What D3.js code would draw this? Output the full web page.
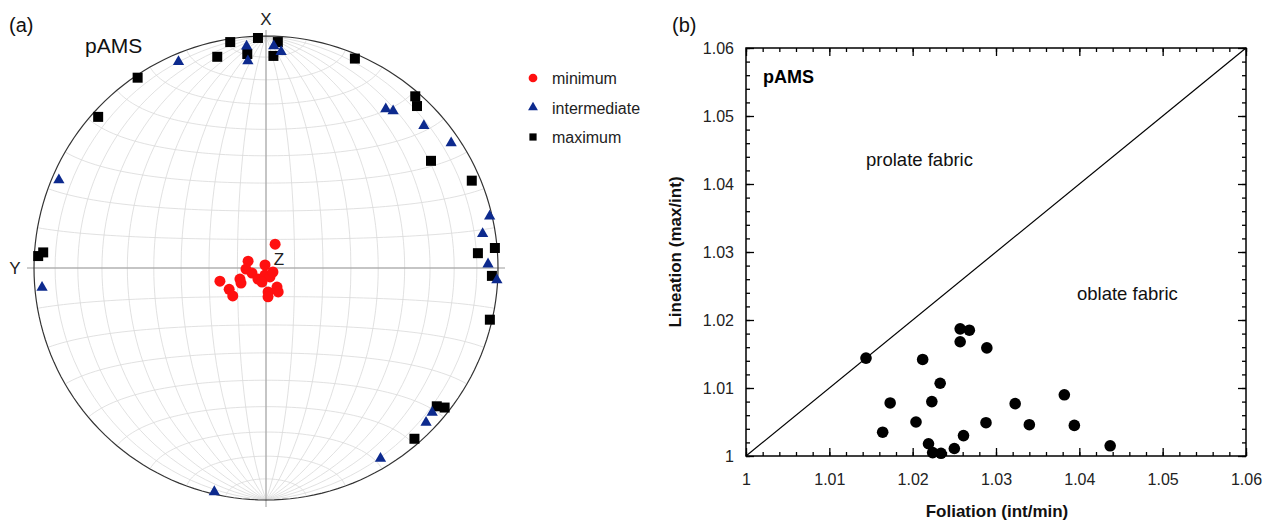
<!DOCTYPE html>
<html>
<head>
<meta charset="utf-8">
<script src="https://cdn.jsdelivr.net/npm/d3@7"></script>
<style>
  body { margin: 0; background: #fff; }
  text { font-family: "Liberation Sans", Arial, sans-serif; }
</style>
</head>
<body>
<div id="chart"></div>
<script>
// (a) stereonet, lower hemisphere: trend / plunge in degrees
var max_trend  = [351, 358, 3, 347, 355, 2, 23, 326, 312, 41, 43, 57, 67, 85, 86, 92, 103, 129, 128, 139, 273, 274];
var max_plunge = [1.6, 0.9, 2.8, 7.3, 8.2, 9.4, 2.2, 1.2, 3.0, 2.2, 5.1, 16.3, 4.1, 1.1, 9.3, 2.9, 1.1, 5.9, 2.6, 2.8, 1.9, 4.2];
var int_trend  = [337, 355, 355, 2, 4, 37, 39, 48, 56, 293, 77, 81, 89, 93, 131, 134, 149, 193, 265];
var int_plunge = [3.9, 4.5, 11.4, 4.8, 7.3, 15.3, 14.0, 9.3, 4.2, 3.4, 1.2, 6.1, 4.8, 0.4, 5.7, 4.6, 4.7, 1.1, 3.5];
var min_trend  = [21, 291, 342, 254, 240, 230, 247, 239, 267, 250, 216, 188, 156, 120, 196, 175, 176, 150, 153];
var min_plunge = [81.1, 83.3, 88.9, 73.2, 75.1, 74.8, 80.1, 79.8, 83.0, 84.8, 85.2, 87.5, 86.6, 87.2, 84.9, 81.6, 79.9, 82.3, 80.6];
var legend_labels = ['minimum', 'intermediate', 'maximum'];

// (b) Flinn diagram
var foliation = [1.0144, 1.0164, 1.0173, 1.0204, 1.0212, 1.0219, 1.0223, 1.0224, 1.0233, 1.0234, 1.0250,
                 1.0257, 1.0257, 1.0261, 1.0268, 1.0289, 1.0288, 1.0323, 1.0340, 1.0382, 1.0394, 1.0437];
var lineation = [1.0144, 1.0035, 1.0078, 1.0050, 1.0142, 1.0018, 1.0080, 1.0005, 1.0107, 1.0004, 1.0011,
                 1.0187, 1.0168, 1.0030, 1.0185, 1.0159, 1.0049, 1.0077, 1.0046, 1.0090, 1.0045, 1.0015];
var major_ticks = [1, 1.01, 1.02, 1.03, 1.04, 1.05, 1.06];
var tick_labels = ['1', '1.01', '1.02', '1.03', '1.04', '1.05', '1.06'];
var minor_ticks = d3.range(0, 31).map(function(i){ return 1 + i * 0.002; });

var width  = 1269;
var height = 522;

var svg = d3.select('#chart')
    .append('svg')
    .attr('width', width)
    .attr('height', height);

// ---------- (a) stereonet ----------
var net_r = 232, cx = 266, cy = 268;
var proj = d3.geoAzimuthalEqualArea()
    .scale(net_r / Math.SQRT2)
    .translate([cx, cy])
    .rotate([0, 0])
    .clipAngle(90)
    .precision(0.1);
var path = d3.geoPath(proj);
var rad = Math.PI / 180;

// trend/plunge -> lon/lat of an equatorial net (X up, east right)
function toGeo(t, p) {
    var n = Math.cos(p * rad) * Math.cos(t * rad);
    var e = Math.cos(p * rad) * Math.sin(t * rad);
    var d = Math.sin(p * rad);
    return [Math.atan2(e, d) / rad, Math.asin(n) / rad];
}

var net = svg.append('g');

var grat = d3.geoGraticule().extent([[-180, -90], [180, 90]]).step([10, 10]);
net.append('path')
    .datum(grat())
    .attr('d', path)
    .attr('fill', 'none')
    .attr('stroke', '#d9d9d9')
    .attr('stroke-width', 0.8);

// axes through centre, with small ticks outside the circle
net.append('line').attr('x1', cx).attr('x2', cx).attr('y1', cy - net_r - 6).attr('y2', cy + net_r + 7)
    .attr('stroke', '#9a9a9a').attr('stroke-width', 1);
net.append('line').attr('x1', cx - net_r - 7).attr('x2', cx + net_r + 7).attr('y1', cy).attr('y2', cy)
    .attr('stroke', '#9a9a9a').attr('stroke-width', 1);

net.append('path')
    .datum({type: 'Sphere'})
    .attr('d', path)
    .attr('fill', 'none')
    .attr('stroke', '#333')
    .attr('stroke-width', 1.2);

function pts(tr, pl) {
    return tr.map(function(t, i){ return proj(toGeo(t, pl[i])); });
}

net.selectAll('path.max')
    .data(pts(max_trend, max_plunge))
    .enter().append('path')
    .attr('class', 'max')
    .attr('transform', function(d){ return 'translate(' + d + ')'; })
    .attr('d', d3.symbol().type(d3.symbolSquare).size(100))
    .attr('fill', '#000');

net.selectAll('path.int')
    .data(pts(int_trend, int_plunge))
    .enter().append('path')
    .attr('class', 'int')
    .attr('transform', function(d){ return 'translate(' + d + ')'; })
    .attr('d', d3.symbol().type(d3.symbolTriangle).size(55))
    .attr('fill', '#0d2a8e');

net.selectAll('path.min')
    .data(pts(min_trend, min_plunge))
    .enter().append('path')
    .attr('class', 'min')
    .attr('transform', function(d){ return 'translate(' + d + ')'; })
    .attr('d', d3.symbol().type(d3.symbolCircle).size(95))
    .attr('fill', '#ff1010');

svg.append('text').attr('x', 266).attr('y', 25).attr('text-anchor', 'middle').attr('font-size', 17).attr('fill', '#222').text('X');
svg.append('text').attr('x', 15).attr('y', 274).attr('text-anchor', 'middle').attr('font-size', 17).attr('fill', '#222').text('Y');
svg.append('text').attr('x', 279).attr('y', 265).attr('text-anchor', 'middle').attr('font-size', 17).attr('fill', '#222').text('Z');
svg.append('text').attr('x', 85).attr('y', 53).attr('font-size', 21).attr('fill', '#111').text('pAMS');
svg.append('text').attr('x', 9).attr('y', 32).attr('font-size', 20).attr('fill', '#111').text('(a)');

// legend
var leg_sym = [d3.symbolCircle, d3.symbolTriangle, d3.symbolSquare];
var leg_size = [60, 42, 52];
var leg_fill = ['#ff1010', '#0d2a8e', '#000'];
var leg = svg.selectAll('g.leg')
    .data(legend_labels)
    .enter().append('g')
    .attr('class', 'leg')
    .attr('transform', function(d, i){ return 'translate(533,' + (78 + i * 29.5) + ')'; });
leg.append('path')
    .attr('d', function(d, i){ return d3.symbol().type(leg_sym[i]).size(leg_size[i])(); })
    .attr('fill', function(d, i){ return leg_fill[i]; });
leg.append('text')
    .attr('x', 19).attr('y', 6)
    .attr('font-size', 16).attr('fill', '#222')
    .text(function(d){ return d; });

// ---------- (b) Flinn diagram ----------
var x = d3.scaleLinear().domain([1, 1.06]).range([746, 1246]);
var y = d3.scaleLinear().domain([1, 1.06]).range([456, 48]);
var fmt = function(d){ return tick_labels[major_ticks.indexOf(d)]; };

function addAxis(gen, tx, ty, vals, size, labels, pad) {
    var g = svg.append('g')
        .attr('transform', 'translate(' + tx + ',' + ty + ')')
        .call(gen.tickValues(vals).tickSize(size).tickSizeOuter(0).tickPadding(pad)
                 .tickFormat(labels ? fmt : ''));
    g.select('.domain').remove();
    g.selectAll('line').attr('stroke', '#000').attr('stroke-width', 1.3);
    g.selectAll('text').attr('font-size', 16).attr('fill', '#222')
        .style('font-family', '"Liberation Sans", Arial, sans-serif');
    return g;
}

addAxis(d3.axisBottom(x), 0, 456, minor_ticks, -4, false, 0);
addAxis(d3.axisBottom(x), 0, 456, major_ticks, -8, true, 18);
addAxis(d3.axisTop(x), 0, 48, minor_ticks, -4, false, 0);
addAxis(d3.axisTop(x), 0, 48, major_ticks, -8, false, 0);
addAxis(d3.axisLeft(y), 746, 0, minor_ticks, -4, false, 0);
addAxis(d3.axisLeft(y), 746, 0, major_ticks, -8, true, 12);
addAxis(d3.axisRight(y), 1246, 0, minor_ticks, -4, false, 0);
addAxis(d3.axisRight(y), 1246, 0, major_ticks, -8, false, 0);

svg.append('rect')
    .attr('x', x(1)).attr('y', y(1.06))
    .attr('width', x(1.06) - x(1)).attr('height', y(1) - y(1.06))
    .attr('fill', 'none').attr('stroke', '#000').attr('stroke-width', 1.5);

svg.append('path')
    .datum([1, 1.06])
    .attr('d', d3.line().x(function(d){ return x(d); }).y(function(d){ return y(d); }))
    .attr('stroke', '#000').attr('stroke-width', 1.2).attr('fill', 'none');

svg.selectAll('circle.flinn')
    .data(foliation)
    .enter().append('circle')
    .attr('class', 'flinn')
    .attr('cx', function(d){ return x(d); })
    .attr('cy', function(d, i){ return y(lineation[i]); })
    .attr('r', 5.8)
    .attr('fill', '#000');

svg.append('text').attr('x', 763).attr('y', 83).attr('font-size', 18).attr('font-weight', 'bold').attr('fill', '#000').text('pAMS');
svg.append('text').attr('x', 866).attr('y', 166).attr('font-size', 18.5).attr('fill', '#111').text('prolate fabric');
svg.append('text').attr('x', 1077).attr('y', 300).attr('font-size', 18.5).attr('fill', '#111').text('oblate fabric');
svg.append('text').attr('x', 672).attr('y', 32).attr('font-size', 20).attr('fill', '#111').text('(b)');

svg.append('text')
    .attr('x', 997).attr('y', 517)
    .attr('text-anchor', 'middle').attr('font-size', 17).attr('font-weight', 'bold').attr('fill', '#111')
    .text('Foliation (int/min)');
svg.append('text')
    .attr('transform', 'translate(681,' + y(1.03) + ') rotate(-90)')
    .attr('text-anchor', 'middle').attr('font-size', 17).attr('font-weight', 'bold').attr('fill', '#111')
    .text('Lineation (max/int)');
</script>
</body>
</html>
